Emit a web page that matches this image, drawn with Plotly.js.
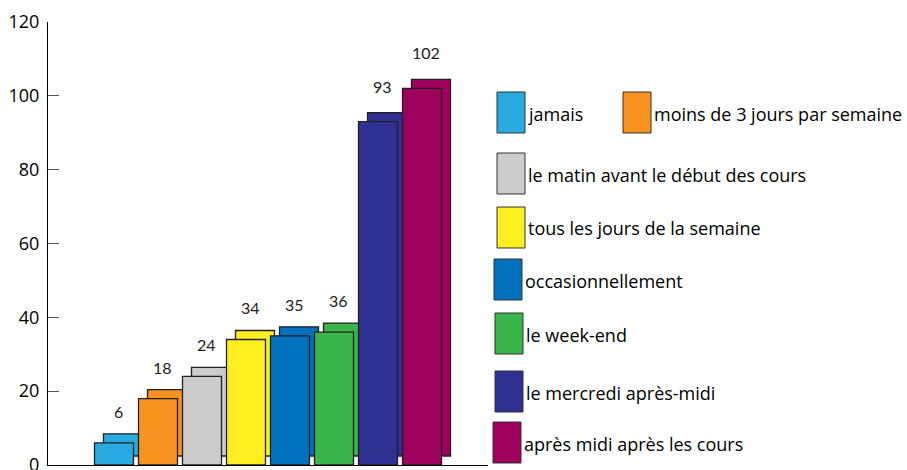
<!DOCTYPE html>
<html>
<head>
<meta charset="utf-8">
<script src="https://cdn.plot.ly/plotly-3.0.1.min.js"></script>
<style>html,body{margin:0;padding:0;background:#fff;}#chart{width:907px;height:470px;}</style>
</head>
<body>
<div id="chart"></div>
<script>
// ---- data ----
var categories = ["jamais", "moins de 3 jours par semaine", "le matin avant le début des cours",
  "tous les jours de la semaine", "occasionnellement", "le week-end",
  "le mercredi après-midi", "après midi après les cours"];
var values = [6, 18, 24, 34, 35, 36, 93, 102];
var colors = ["#29ABE2", "#F7931E", "#CCCCCC", "#FCEE21", "#0071BC", "#39B54A", "#2E3192", "#9E005D"];
var yTicks = [0, 20, 40, 60, 80, 100, 120];

// ---- geometry (pixels) ----
var W = 907, H = 470;
var mL = 48, mR = 419, mT = 22, mB = 5;
var plotW = W - mL - mR, plotH = H - mT - mB;
var xRange = [-1.5, 8.5], yRange = [0, 120];
var pxPerX = plotW / (xRange[1] - xRange[0]);
var pxPerY = plotH / (yRange[1] - yRange[0]);
var depthPx = 9;
var dx = depthPx / pxPerX, dy = depthPx / pxPerY;
var barW = 39 / pxPerX;

var idx = categories.map(function (c, i) { return i; });
var outline = {color: "#231F20", width: 1.3};

var back = {
  type: "bar", x: idx.map(function (i) { return i + dx; }), y: values, base: dy,
  width: barW, marker: {color: colors, line: outline}, hoverinfo: "skip", showlegend: false,
  textposition: "none"
};
var front = {
  type: "bar", x: idx, y: values, width: barW, hovertext: categories, textposition: "none",
  marker: {color: colors, line: outline}, hoverinfo: "y+text", showlegend: false
};

function pxX(px) { return (px - mL) / plotW; }
function pxY(py) { return (H - mB - py) / plotH; }

// value labels
var annotations = values.map(function (v, i) {
  return {x: i + dx * 0.45, y: v + dy, xref: "x", yref: "y", text: String(v), showarrow: false,
    yanchor: "bottom", yshift: 11 + (v > 80 ? 4 : 0),
    font: {family: "Lato, 'Open Sans', sans-serif", size: 16, color: "#222"}};
});

// legend layout (pixel positions of swatches)
var legPos = [
  [497, 92], [623, 92], [497, 153], [497, 207], [494, 259], [495, 313], [495, 371], [493, 422]
];
var swW = 28, swH = 41;
var shapes = [];
legPos.forEach(function (p, i) {
  shapes.push({type: "rect", xref: "paper", yref: "paper",
    x0: pxX(p[0]), x1: pxX(p[0] + swW), y0: pxY(p[1] + swH), y1: pxY(p[1]),
    fillcolor: colors[i], line: {color: "#333", width: 1}});
  annotations.push({xref: "paper", yref: "paper", x: pxX(p[0] + swW + 1), y: pxY(p[1] + swH / 2 + 1),
    xanchor: "left", yanchor: "middle", showarrow: false, text: categories[i],
    font: {family: "'Open Sans', sans-serif", size: 18, color: "#000"}});
});

var layout = {
  width: W, height: H,
  margin: {l: mL, r: mR, t: mT, b: mB, pad: 0},
  paper_bgcolor: "#fff", plot_bgcolor: "#fff",
  barmode: "overlay", bargap: 0,
  showlegend: false,
  xaxis: {range: xRange, showgrid: false, zeroline: false, showline: true, linecolor: "#000", linewidth: 1,
    tickmode: "array", tickvals: [xRange[1]], ticks: "inside", ticklen: 10, tickcolor: "#555",
    showticklabels: false, fixedrange: true},
  yaxis: {range: yRange, showgrid: false, zeroline: false, showline: true, linecolor: "#000", linewidth: 1,
    tickmode: "array", tickvals: yTicks, ticktext: yTicks.map(String),
    ticks: "inside", ticklen: 11, tickcolor: "#555", tickwidth: 1,
    ticklabelstandoff: 4, ticklabeloverflow: "allow",
    tickfont: {family: "'Open Sans', sans-serif", size: 18, color: "#000"}, fixedrange: true},
  annotations: annotations,
  shapes: shapes
};

Plotly.newPlot("chart", [back, front], layout, {staticPlot: true});
</script>
</body>
</html>
